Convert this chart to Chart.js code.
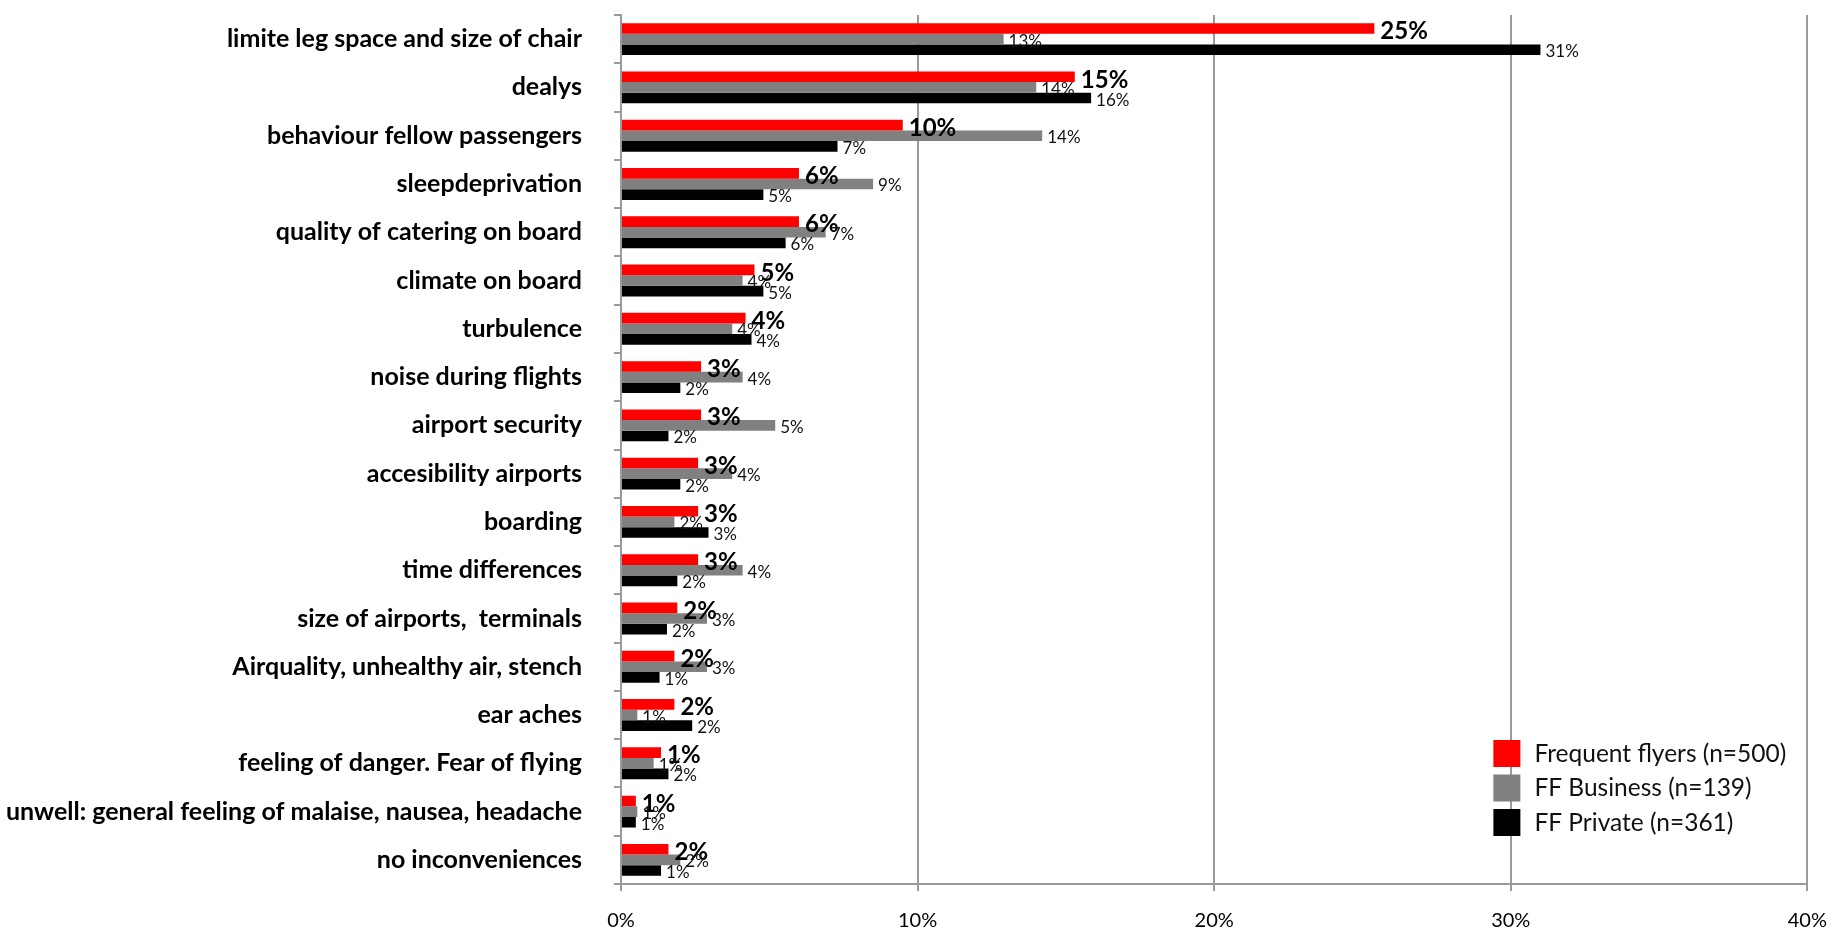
<!DOCTYPE html>
<html>
<head>
<meta charset="utf-8">
<script src="https://cdn.jsdelivr.net/npm/chart.js@4/dist/chart.umd.min.js"></script>
<style>
html,body{margin:0;padding:0;background:#fff;}
#wrap{position:relative;width:1845px;height:932px;}
</style>
</head>
<body>
<div id="wrap"><canvas id="c"></canvas></div>
<script>
const categories = [
  "limite leg space and size of chair",
  "dealys",
  "behaviour fellow passengers",
  "sleepdeprivation",
  "quality of catering on board",
  "climate on board",
  "turbulence",
  "noise during flights",
  "airport security",
  "accesibility airports",
  "boarding",
  "time differences",
  "size of airports,  terminals",
  "Airquality, unhealthy air, stench",
  "ear aches",
  "feeling of danger. Fear of flying",
  "unwell: general feeling of malaise, nausea, headache",
  "no inconveniences"
];
const seriesNames = ["Frequent flyers (n=500)", "FF Business (n=139)", "FF Private (n=361)"];
const frequentFlyers = [25.4, 15.3, 9.5, 6.0, 6.0, 4.5, 4.2, 2.7, 2.7, 2.6, 2.6, 2.6, 1.9, 1.8, 1.8, 1.35, 0.5, 1.6];
const ffBusiness     = [12.9, 14.0, 14.2, 8.5, 6.9, 4.1, 3.75, 4.1, 5.2, 3.75, 1.8, 4.1, 2.9, 2.9, 0.55, 1.1, 0.55, 2.0];
const ffPrivate      = [31.0, 15.85, 7.3, 4.8, 5.55, 4.8, 4.4, 2.0, 1.6, 2.0, 2.95, 1.9, 1.55, 1.3, 2.4, 1.6, 0.5, 1.35];
const xTicks = [0, 10, 20, 30, 40];

const colors = ["#ff0000", "#808080", "#000000"];
const gridColor = "#9a9a9a";

const valueLabels = {
  id: 'valueLabels',
  afterDatasetsDraw(chart) {
    const ctx = chart.ctx;
    ctx.save();
    ctx.textAlign = 'left';
    ctx.textBaseline = 'middle';
    chart.data.datasets.forEach((ds, di) => {
      const meta = chart.getDatasetMeta(di);
      meta.data.forEach((el, i) => {
        const txt = Math.round(ds.data[i]) + '%';
        if (di === 0) {
          ctx.font = 'bold 24px Lato';
          ctx.fillStyle = '#000';
          ctx.fillText(txt, el.x + 6, el.y + 3);
        } else {
          ctx.font = '17px Lato';
          ctx.fillStyle = '#111';
          ctx.fillText(txt, el.x + 5, el.y + 2);
        }
      });
    });
    ctx.restore();
  }
};

const boxLegend = {
  id: 'boxLegend',
  afterDraw(chart) {
    const ctx = chart.ctx;
    const a = chart.chartArea;
    const x0 = a.right - 314;
    const y0 = 740;
    ctx.save();
    ctx.font = '24.5px Lato';
    ctx.textAlign = 'left';
    ctx.textBaseline = 'middle';
    chart.data.datasets.forEach((ds, i) => {
      const y = y0 + i * 34.5;
      ctx.fillStyle = ds.backgroundColor;
      ctx.fillRect(x0, y, 27, 27);
      ctx.fillStyle = '#111';
      ctx.fillText(ds.label, x0 + 41, y + 14);
    });
    ctx.restore();
  }
};

new Chart(document.getElementById('c'), {
  type: 'bar',
  data: {
    labels: categories,
    datasets: [
      { label: seriesNames[0], data: frequentFlyers, backgroundColor: colors[0] },
      { label: seriesNames[1], data: ffBusiness, backgroundColor: colors[1] },
      { label: seriesNames[2], data: ffPrivate, backgroundColor: colors[2] }
    ]
  },
  options: {
    indexAxis: 'y',
    responsive: true,
    maintainAspectRatio: false,
    animation: false,
    categoryPercentage: 0.66,
    barPercentage: 1.0,
    layout: { padding: { top: 15, right: 29, bottom: 0, left: 0 } },
    plugins: {
      legend: { display: false },
      tooltip: { enabled: false }
    },
    scales: {
      x: {
        min: 0, max: 40,
        afterBuildTicks(scale) { scale.ticks = xTicks.map(v => ({ value: v })); },
        afterFit(scale) { scale.height = 48; },
        grid: { color: gridColor, lineWidth: 2, drawTicks: true, tickLength: 7, tickColor: gridColor },
        border: { display: true, color: gridColor, width: 2 },
        ticks: {
          color: '#000',
          font: { family: 'Lato', size: 20 },
          padding: 18,
          callback: v => v + '%'
        }
      },
      y: {
        afterFit(scale) { scale.width = 621; scale.paddingTop = 0; scale.paddingBottom = 0; },
        grid: { display: true, drawOnChartArea: false, drawTicks: true, tickLength: 7, color: gridColor, tickColor: gridColor, lineWidth: 2, offset: true },
        border: { display: true, color: gridColor, width: 2 },
        ticks: {
          color: '#000',
          font: { family: 'Lato', size: 25, weight: 'bold' },
          padding: 32,
          autoSkip: false
        }
      }
    }
  },
  plugins: [valueLabels, boxLegend]
});
</script>
</body>
</html>
